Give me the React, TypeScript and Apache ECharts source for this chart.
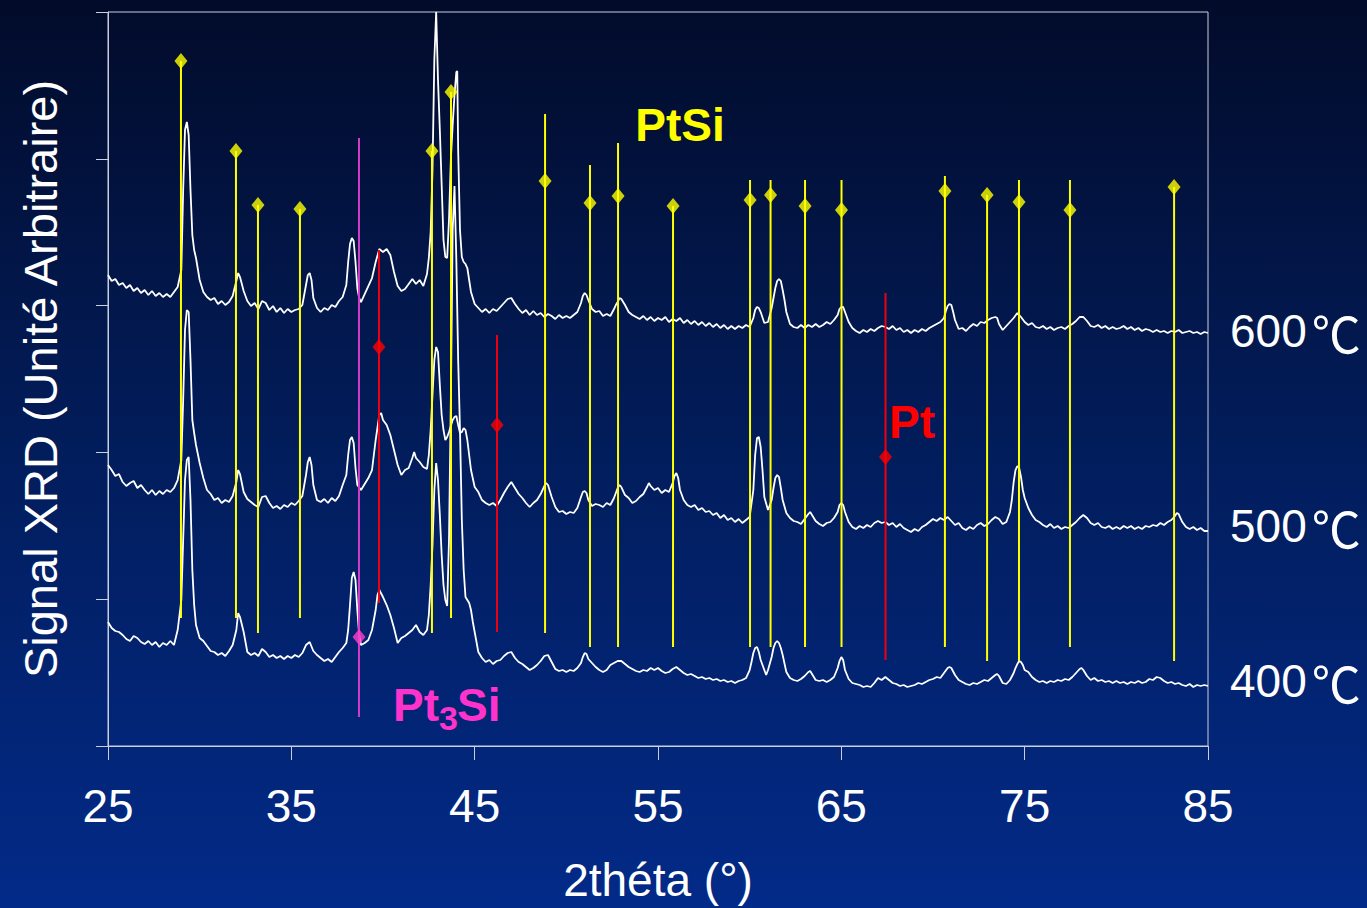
import React, { useEffect, useRef } from "react";
import * as echarts from "echarts";

// 2theta (deg), signal (arbitrary counts)
const scan600: number[][] = [
[25.0,4710],[25.2,4650],[25.4,4670],[25.6,4610],[25.8,4630],[26.0,4580],[26.2,4610],[26.4,4550],[26.6,4580],[26.8,4530],[27.0,4560],[27.2,4510],[27.4,4550],[27.6,4500],[27.8,4530],[28.0,4490],[28.2,4520],[28.4,4490],[28.6,4540],[28.8,4590],
[29.0,4760],[29.1,5560],[29.2,6160],[29.3,6240],[29.4,6110],[29.5,5560],[29.6,5110],[29.7,4960],[29.8,4880],[30.0,4660],[30.2,4540],[30.4,4490],[30.6,4460],[30.8,4480],[31.0,4420],[31.2,4450],[31.4,4410],[31.6,4440],[31.8,4500],
[32.0,4650],[32.1,4730],[32.2,4690],[32.4,4550],[32.6,4450],[32.8,4400],[33.0,4430],[33.2,4370],[33.4,4450],[33.6,4430],[33.8,4360],[34.0,4400],[34.2,4340],[34.4,4380],[34.6,4330],[34.8,4370],[35.0,4340],[35.2,4360],[35.4,4370],[35.6,4410],
[35.8,4610],[35.9,4710],[36.0,4730],[36.1,4660],[36.2,4480],[36.4,4380],[36.6,4340],[36.8,4380],[37.0,4360],[37.2,4410],[37.4,4390],[37.6,4450],[37.8,4490],[38.0,4610],[38.1,4840],[38.2,5020],[38.3,5080],[38.4,5050],[38.5,4840],[38.6,4580],[38.7,4480],[38.8,4440],
[39.0,4520],[39.2,4600],[39.4,4680],[39.6,4840],[39.8,4970],[40.0,4940],[40.2,4970],[40.4,4910],[40.6,4740],[40.8,4600],[41.0,4550],[41.2,4570],[41.4,4620],[41.6,4670],[41.8,4620],[42.0,4660],[42.2,4600],[42.4,4720],[42.5,4880],[42.6,5140],[42.7,5760],[42.8,6860],[42.9,7340],
[43.0,6660],[43.1,6160],[43.2,5610],[43.3,5060],[43.4,4890],[43.5,4880],[43.6,5260],[43.7,5860],[43.8,6210],[43.9,6510],[44.0,6740],[44.05,6750],[44.1,5960],[44.2,5160],[44.3,4890],[44.4,4840],[44.5,4820],[44.6,4780],[44.7,4660],[44.8,4540],
[45.0,4420],[45.2,4380],[45.4,4340],[45.6,4370],[45.8,4330],[46.0,4370],[46.2,4350],[46.4,4390],[46.6,4430],[46.8,4470],[47.0,4480],[47.2,4420],[47.4,4370],[47.6,4330],[47.8,4360],[48.0,4310],[48.2,4350],[48.4,4310],[48.6,4330],[48.8,4290],
[49.0,4320],[49.2,4300],[49.4,4270],[49.6,4310],[49.8,4280],[50.0,4300],[50.2,4280],[50.4,4310],[50.6,4340],[50.8,4430],[50.9,4500],[51.0,4530],[51.1,4510],[51.2,4460],[51.4,4370],[51.6,4340],[51.8,4350],[52.0,4300],[52.2,4320],[52.4,4300],
[52.6,4370],[52.7,4410],[52.8,4440],[52.9,4480],[53.0,4470],[53.2,4410],[53.4,4340],[53.6,4310],[53.8,4290],[54.0,4270],[54.2,4300],[54.4,4260],[54.6,4290],[54.8,4250],[55.0,4280],[55.2,4260],[55.4,4290],[55.6,4240],[55.8,4270],[56.0,4250],
[56.2,4280],[56.4,4230],[56.6,4260],[56.8,4220],[57.0,4250],[57.2,4210],[57.4,4240],[57.6,4200],[57.8,4230],[58.0,4190],[58.2,4220],[58.4,4180],[58.6,4210],[58.8,4170],[59.0,4200],[59.2,4170],[59.4,4200],[59.6,4180],[59.8,4210],[60.0,4190],
[60.2,4280],[60.3,4360],[60.4,4390],[60.5,4380],[60.6,4340],[60.8,4230],[61.0,4240],[61.2,4380],[61.3,4480],[61.4,4580],[61.5,4650],[61.6,4670],[61.7,4650],[61.8,4560],[61.9,4460],[62.0,4340],[62.2,4220],[62.4,4190],[62.6,4180],[62.8,4210],
[63.0,4180],[63.2,4210],[63.4,4190],[63.6,4220],[63.8,4190],[64.0,4210],[64.2,4240],[64.4,4220],[64.6,4260],[64.8,4310],[64.9,4370],[65.0,4390],[65.1,4390],[65.2,4340],[65.4,4240],[65.6,4180],[65.8,4150],[66.0,4130],[66.2,4160],[66.4,4140],
[66.6,4170],[66.8,4150],[67.0,4180],[67.2,4200],[67.4,4190],[67.6,4170],[67.8,4200],[68.0,4160],[68.2,4180],[68.4,4140],[68.6,4160],[68.8,4130],[69.0,4160],[69.2,4140],[69.4,4170],[69.6,4150],[69.8,4180],[70.0,4200],[70.2,4220],[70.4,4240],
[70.6,4280],[70.7,4350],[70.8,4400],[70.9,4420],[71.0,4410],[71.1,4340],[71.2,4260],[71.4,4170],[71.6,4180],[71.8,4150],[72.0,4190],[72.2,4220],[72.4,4200],[72.6,4240],[72.8,4230],[73.0,4260],[73.2,4280],[73.4,4290],[73.5,4280],[73.6,4220],
[73.8,4160],[74.0,4200],[74.2,4240],[74.4,4280],[74.6,4330],[74.8,4290],[75.0,4240],[75.2,4210],[75.4,4230],[75.6,4190],[75.8,4180],[76.0,4200],[76.2,4170],[76.4,4190],[76.6,4160],[76.8,4180],[77.0,4190],[77.2,4170],[77.4,4200],[77.6,4220],
[77.8,4250],[78.0,4290],[78.2,4290],[78.4,4250],[78.6,4200],[78.8,4190],[79.0,4210],[79.2,4180],[79.4,4200],[79.6,4170],[79.8,4190],[80.0,4170],[80.2,4180],[80.4,4200],[80.6,4170],[80.8,4190],[81.0,4160],[81.2,4180],[81.4,4150],[81.6,4170],
[81.8,4160],[82.0,4140],[82.2,4160],[82.4,4140],[82.6,4150],[82.8,4130],[83.0,4150],[83.2,4140],[83.4,4160],[83.6,4130],[83.8,4140],[84.0,4150],[84.2,4130],[84.4,4140],[84.6,4120],[84.8,4140],[85.0,4130]
];

const scan500: number[][] = [
[25.0,2810],[25.2,2760],[25.4,2700],[25.6,2720],[25.8,2640],[26.0,2600],[26.2,2630],[26.4,2650],[26.6,2580],[26.8,2610],[27.0,2560],[27.2,2520],[27.4,2560],[27.6,2510],[27.8,2550],[28.0,2520],[28.2,2560],[28.4,2540],[28.6,2580],[28.8,2660],
[29.0,2860],[29.1,3460],[29.2,4160],[29.3,4360],[29.4,4340],[29.5,3860],[29.6,3260],[29.7,3130],[29.8,3010],[30.0,2830],[30.2,2680],[30.4,2560],[30.6,2520],[30.8,2460],[31.0,2480],[31.2,2430],[31.4,2460],[31.6,2440],[31.8,2500],
[32.0,2640],[32.1,2760],[32.2,2720],[32.4,2540],[32.6,2470],[32.8,2440],[33.0,2410],[33.2,2390],[33.4,2490],[33.6,2500],[33.8,2430],[34.0,2380],[34.2,2400],[34.4,2370],[34.6,2410],[34.8,2390],[35.0,2430],[35.2,2410],[35.4,2450],[35.6,2500],
[35.8,2710],[35.9,2840],[36.0,2890],[36.1,2810],[36.2,2610],[36.4,2460],[36.6,2440],[36.8,2470],[37.0,2430],[37.2,2480],[37.4,2450],[37.6,2500],[37.8,2610],[38.0,2710],[38.1,2910],[38.2,3060],[38.3,3090],[38.4,3030],[38.5,2780],[38.6,2610],[38.8,2560],
[39.0,2620],[39.2,2680],[39.4,2760],[39.6,3060],[39.8,3310],[39.9,3330],[40.0,3260],[40.2,3210],[40.4,3110],[40.6,2960],[40.8,2810],[41.0,2710],[41.2,2760],[41.4,2780],[41.6,2880],[41.7,2940],[41.8,2880],[42.0,2840],[42.2,2790],[42.4,2770],
[42.5,2910],[42.6,3160],[42.7,3510],[42.8,3860],[42.9,3990],[43.0,3940],[43.1,3610],[43.2,3310],[43.3,3160],[43.4,3060],[43.5,3090],[43.6,3140],[43.7,3200],[43.8,3260],[43.9,3290],[44.0,3300],[44.1,3210],[44.2,3130],[44.3,3140],[44.4,3180],
[44.5,3160],[44.6,3060],[44.7,2910],[44.8,2760],[45.0,2590],[45.2,2540],[45.4,2460],[45.6,2430],[45.8,2410],[46.0,2430],[46.2,2400],[46.4,2460],[46.6,2530],[46.8,2590],[47.0,2640],[47.2,2580],[47.4,2520],[47.6,2480],[47.8,2430],[48.0,2390],
[48.2,2430],[48.4,2460],[48.6,2520],[48.8,2600],[48.9,2630],[49.0,2610],[49.2,2490],[49.4,2390],[49.6,2340],[49.8,2350],[50.0,2320],[50.2,2340],[50.4,2330],[50.6,2380],[50.8,2490],[50.9,2540],[51.0,2550],[51.1,2530],[51.2,2460],[51.4,2400],
[51.6,2420],[51.8,2410],[52.0,2390],[52.2,2430],[52.4,2410],[52.6,2480],[52.8,2580],[52.9,2610],[53.0,2590],[53.2,2510],[53.4,2480],[53.6,2430],[53.8,2450],[54.0,2490],[54.2,2520],[54.4,2590],[54.5,2630],[54.6,2600],[54.8,2560],[55.0,2580],
[55.2,2530],[55.4,2560],[55.6,2540],[55.8,2630],[55.9,2700],[56.0,2730],[56.1,2680],[56.2,2560],[56.4,2460],[56.6,2410],[56.8,2390],[57.0,2410],[57.2,2360],[57.4,2380],[57.6,2340],[57.8,2350],[58.0,2310],[58.2,2330],[58.4,2280],[58.6,2310],
[58.8,2260],[59.0,2280],[59.2,2240],[59.4,2270],[59.6,2230],[59.8,2260],[60.0,2290],[60.2,2560],[60.3,2910],[60.4,3080],[60.5,3090],[60.6,2990],[60.7,2760],[60.8,2490],[61.0,2360],[61.2,2460],[61.3,2580],[61.4,2680],[61.5,2710],[61.6,2690],
[61.7,2580],[61.8,2460],[62.0,2330],[62.2,2280],[62.4,2250],[62.6,2240],[62.8,2220],[63.0,2270],[63.2,2320],[63.3,2340],[63.4,2310],[63.6,2250],[63.8,2220],[64.0,2200],[64.2,2230],[64.4,2240],[64.6,2280],[64.8,2340],[64.9,2410],[65.0,2430],
[65.1,2410],[65.2,2340],[65.4,2240],[65.6,2190],[65.8,2170],[66.0,2200],[66.2,2180],[66.4,2210],[66.6,2190],[66.8,2230],[67.0,2250],[67.2,2230],[67.4,2240],[67.6,2210],[67.8,2230],[68.0,2190],[68.2,2220],[68.4,2180],[68.6,2160],[68.8,2140],
[69.0,2170],[69.2,2150],[69.4,2190],[69.6,2210],[69.8,2240],[70.0,2270],[70.2,2250],[70.4,2280],[70.6,2260],[70.8,2290],[71.0,2250],[71.2,2210],[71.4,2230],[71.6,2180],[71.8,2160],[72.0,2190],[72.2,2170],[72.4,2210],[72.6,2230],[72.8,2200],
[73.0,2220],[73.2,2260],[73.4,2290],[73.6,2270],[73.8,2220],[74.0,2240],[74.2,2340],[74.3,2460],[74.4,2640],[74.5,2760],[74.6,2800],[74.7,2780],[74.8,2690],[74.9,2560],[75.0,2480],[75.2,2380],[75.4,2310],[75.6,2260],[75.8,2240],[76.0,2210],
[76.2,2190],[76.4,2220],[76.6,2180],[76.8,2200],[77.0,2170],[77.2,2190],[77.4,2180],[77.6,2210],[77.8,2240],[78.0,2280],[78.2,2310],[78.4,2280],[78.6,2230],[78.8,2210],[79.0,2230],[79.2,2190],[79.4,2180],[79.6,2200],[79.8,2170],[80.0,2190],
[80.2,2170],[80.4,2200],[80.6,2180],[80.8,2200],[81.0,2170],[81.2,2190],[81.4,2170],[81.6,2200],[81.8,2190],[82.0,2210],[82.2,2200],[82.4,2230],[82.6,2210],[82.8,2240],[83.0,2260],[83.2,2300],[83.3,2330],[83.4,2320],[83.6,2240],[83.8,2190],
[84.0,2170],[84.2,2190],[84.4,2160],[84.6,2180],[84.8,2150],[85.0,2150]
];

const scan400: number[][] = [
[25.0,1240],[25.2,1180],[25.4,1150],[25.6,1140],[25.8,1110],[26.0,1070],[26.2,1050],[26.4,1100],[26.6,1080],[26.8,1040],[27.0,1020],[27.2,1050],[27.4,1010],[27.6,1040],[27.8,990],[28.0,1030],[28.2,1010],[28.4,1050],[28.6,1010],[28.8,1160],
[29.0,1460],[29.1,2060],[29.2,2660],[29.3,2860],[29.4,2890],[29.5,2460],[29.6,1760],[29.7,1410],[29.8,1210],[30.0,1080],[30.2,1050],[30.4,1000],[30.6,950],[30.8,940],[31.0,910],[31.2,930],[31.4,900],[31.6,950],[31.8,1010],
[32.0,1160],[32.1,1330],[32.2,1290],[32.4,1140],[32.6,940],[32.8,910],[33.0,930],[33.2,900],[33.4,970],[33.6,940],[33.8,890],[34.0,910],[34.2,880],[34.4,900],[34.6,870],[34.8,900],[35.0,880],[35.2,910],[35.4,890],[35.6,930],
[35.8,1010],[36.0,1040],[36.2,950],[36.4,910],[36.6,880],[36.8,850],[37.0,870],[37.2,840],[37.4,890],[37.6,940],[37.8,980],[38.0,1030],[38.1,1160],[38.2,1410],[38.3,1680],[38.4,1740],[38.5,1660],[38.6,1360],[38.7,1110],[38.8,1010],
[39.0,1030],[39.2,1060],[39.4,1160],[39.6,1360],[39.7,1510],[39.8,1560],[40.0,1490],[40.2,1410],[40.4,1310],[40.6,1180],[40.8,1030],[41.0,1080],[41.2,1100],[41.4,1130],[41.6,1160],[41.8,1210],[42.0,1140],[42.2,1110],[42.4,1160],
[42.5,1310],[42.6,1610],[42.7,2010],[42.8,2560],[42.9,2830],[43.0,2660],[43.1,2310],[43.2,1910],[43.3,1610],[43.4,1460],[43.5,1400],[43.6,2060],[43.7,3460],[43.8,5160],[43.9,5600],[44.0,4860],[44.1,3860],[44.2,3160],[44.3,2260],[44.4,1760],
[44.5,1490],[44.6,1460],[44.7,1430],[44.8,1360],[44.9,1240],[45.0,1140],[45.2,940],[45.4,880],[45.6,840],[45.8,860],[46.0,820],[46.2,850],[46.4,860],[46.6,900],[46.8,930],[47.0,940],[47.2,880],[47.4,840],[47.6,820],[47.8,790],
[48.0,760],[48.2,780],[48.4,810],[48.6,850],[48.8,900],[49.0,910],[49.2,840],[49.4,770],[49.6,750],[49.8,760],[50.0,740],[50.2,760],[50.4,750],[50.6,780],[50.8,830],[50.9,890],[51.0,930],[51.1,920],[51.2,870],[51.4,830],
[51.6,790],[51.8,760],[52.0,740],[52.2,760],[52.4,810],[52.6,830],[52.8,850],[53.0,850],[53.2,820],[53.4,790],[53.6,770],[53.8,750],[54.0,740],[54.2,760],[54.4,750],[54.6,780],[54.8,760],[55.0,780],[55.2,750],[55.4,730],
[55.6,740],[55.8,770],[56.0,790],[56.2,760],[56.4,730],[56.6,710],[56.8,720],[57.0,700],[57.2,680],[57.4,690],[57.6,670],[57.8,680],[58.0,660],[58.2,670],[58.4,650],[58.6,660],[58.8,640],[59.0,650],[59.2,630],[59.4,650],
[59.6,660],[59.8,680],[60.0,760],[60.1,840],[60.2,930],[60.3,980],[60.4,990],[60.5,940],[60.6,860],[60.8,760],[60.9,710],[61.0,760],[61.2,890],[61.3,980],[61.4,1030],[61.5,1050],[61.6,1030],[61.7,980],[61.8,910],[62.0,740],
[62.2,680],[62.4,660],[62.6,650],[62.8,670],[63.0,700],[63.2,740],[63.3,750],[63.4,720],[63.6,660],[63.8,650],[64.0,660],[64.2,640],[64.4,660],[64.6,690],[64.8,780],[64.9,850],[65.0,890],[65.1,860],[65.2,760],[65.4,670],
[65.6,630],[65.8,620],[66.0,610],[66.2,590],[66.4,600],[66.6,590],[66.8,630],[67.0,680],[67.2,660],[67.4,690],[67.6,660],[67.8,630],[68.0,620],[68.2,600],[68.4,610],[68.6,590],[68.8,600],[69.0,610],[69.2,630],[69.4,620],
[69.6,640],[69.8,660],[70.0,670],[70.2,690],[70.4,680],[70.6,730],[70.8,780],[70.9,790],[71.0,780],[71.2,710],[71.4,660],[71.6,640],[71.8,620],[72.0,610],[72.2,630],[72.4,620],[72.6,640],[72.8,660],[73.0,650],[73.2,680],
[73.4,710],[73.5,720],[73.6,700],[73.8,630],[74.0,620],[74.2,660],[74.4,730],[74.5,780],[74.6,820],[74.7,850],[74.8,840],[74.9,810],[75.0,760],[75.2,740],[75.4,690],[75.6,660],[75.8,640],[76.0,650],[76.2,630],[76.4,650],
[76.6,640],[76.8,660],[77.0,650],[77.2,670],[77.4,660],[77.6,690],[77.8,730],[78.0,770],[78.1,780],[78.2,760],[78.4,700],[78.6,660],[78.8,680],[79.0,650],[79.2,660],[79.4,640],[79.6,650],[79.8,630],[80.0,650],[80.2,630],
[80.4,640],[80.6,620],[80.8,640],[81.0,630],[81.2,650],[81.4,630],[81.6,640],[81.8,670],[82.0,660],[82.2,690],[82.4,680],[82.6,650],[82.8,630],[83.0,640],[83.2,620],[83.4,630],[83.6,610],[83.8,600],[84.0,620],[84.2,590],
[84.4,610],[84.6,600],[84.8,610],[85.0,600]
];

// Reference patterns: position, top of stick, diamond, foot of stick
const ptsiPos = [28.98, 31.98, 33.18, 35.47, 42.67, 43.71, 48.84, 51.29, 52.82, 55.82, 60.02, 61.14, 63.02, 65.01, 70.65, 72.95, 74.69, 77.47, 83.15];
const ptsiTop = [6850, 5950, 5410, 5370, 5950, 6540, 6320, 5810, 6030, 5400, 5660, 5660, 5660, 5660, 5700, 5510, 5660, 5660, 5590];
const ptsiMark = [6850, 5950, 5410, 5370, 5950, 6540, 5650, 5430, 5500, 5400, 5460, 5510, 5400, 5360, 5550, 5510, 5440, 5360, 5590];
const ptsiFoot = [1280, 1280, 1130, 1280, 1130, 1280, 1130, 990, 990, 990, 990, 990, 990, 990, 990, 850, 850, 990, 850];

const ptPos = [39.78, 46.22, 67.41];
const ptTop = [4960, 4110, 4530];
const ptMark = [3990, 3210, 2890];
const ptFoot = [1430, 1140, 860];

const pt3siPos = [38.69];
const pt3siTop = [6080];
const pt3siMark = [1090];
const pt3siFoot = [290];

const temperatures = ["600", "500", "400"];

const FONT = '"Liberation Sans", Arial, Helvetica, sans-serif';
const CJK = '"Noto Sans CJK JP", "Noto Sans CJK SC", sans-serif';
const AXIS = "#c9cfdd";

function sticks(name: string, pos: number[], top: number[], mark: number[], foot: number[], lineColor: string, markColor: string): any[] {
  return [
    {
      name,
      type: "custom",
      z: 5,
      silent: true,
      data: pos.map((x, i) => [x, top[i], foot[i]]),
      encode: { x: 0, y: [1, 2] },
      renderItem: (_p: any, api: any) => {
        const a = api.coord([api.value(0), api.value(1)]);
        const b = api.coord([api.value(0), api.value(2)]);
        return {
          type: "line",
          shape: { x1: a[0], y1: a[1], x2: b[0], y2: b[1] },
          style: { stroke: lineColor, lineWidth: 2 },
        };
      },
    },
    {
      name: name + " pics",
      type: "scatter",
      z: 6,
      silent: true,
      data: pos.map((x, i) => [x, mark[i]]),
      symbol: "diamond",
      symbolSize: [13, 16],
      itemStyle: { color: markColor },
    },
  ];
}

function curve(name: string, data: number[][]): any {
  return {
    name,
    type: "line",
    data,
    z: 3,
    symbol: "none",
    silent: true,
    lineStyle: { color: "#ffffff", width: 1.8 },
  };
}

function txt(x: number, y: number, text: string, font: string, fill: string, align = "left"): any {
  return {
    type: "text",
    x,
    y,
    z: 10,
    silent: true,
    style: { text, font, fill, align, verticalAlign: "middle", textAlign: align, textVerticalAlign: "middle" },
  };
}

function tempLabel(y: number, t: string): any {
  return {
    type: "text",
    x: 1230,
    y,
    z: 10,
    silent: true,
    style: {
      text: `{n|${t}}{c|℃}`,
      fill: "#ffffff",
      align: "left",
      verticalAlign: "middle",
      textAlign: "left",
      textVerticalAlign: "middle",
      rich: {
        n: { fontSize: 46, fontFamily: FONT, fill: "#ffffff" },
        c: { fontSize: 49, fontFamily: CJK, fill: "#ffffff", padding: [0, 0, 0, 5] },
      },
    },
  };
}

export default function App() {
  const ref = useRef<HTMLDivElement>(null);
  useEffect(() => {
    if (!ref.current) return;
    const chart = echarts.init(ref.current, null, { renderer: "svg" });
    const option: any = {
      animation: false,
      backgroundColor: "transparent",
      textStyle: { fontFamily: FONT },
      grid: { left: 108, right: 159, top: 12, bottom: 162, show: true, borderColor: AXIS, borderWidth: 1, backgroundColor: "transparent" },
      xAxis: {
        type: "value",
        min: 25,
        max: 85,
        interval: 10,
        axisLine: { show: true, lineStyle: { color: AXIS, width: 1 } },
        axisTick: { show: true, length: 14, lineStyle: { color: AXIS, width: 1 } },
        axisLabel: { color: "#ffffff", fontSize: 46, fontFamily: FONT, margin: 37 },
        splitLine: { show: false },
        name: "2théta (°)",
        nameLocation: "middle",
        nameGap: 111,
        nameTextStyle: { color: "#ffffff", fontSize: 46, fontFamily: FONT },
      },
      yAxis: {
        type: "value",
        min: 0,
        max: 7340,
        interval: 1468,
        axisLine: { show: true, lineStyle: { color: AXIS, width: 1 } },
        axisTick: { show: true, length: 12, lineStyle: { color: AXIS, width: 1 } },
        axisLabel: { show: false },
        splitLine: { show: false },
        name: "Signal XRD (Unité Arbitraire)",
        nameLocation: "middle",
        nameGap: 44,
        nameTextStyle: { color: "#ffffff", fontSize: 47, fontFamily: FONT },
      },
      series: [
        curve("600 °C", scan600),
        curve("500 °C", scan500),
        curve("400 °C", scan400),
        ...sticks("PtSi", ptsiPos, ptsiTop, ptsiMark, ptsiFoot, "#ffff00", "#ffff00"),
        ...sticks("Pt", ptPos, ptTop, ptMark, ptFoot, "#ee0010", "#ff0000"),
        ...sticks("Pt3Si", pt3siPos, pt3siTop, pt3siMark, pt3siFoot, "#d23cc8", "#ff40cc"),
      ],
      graphic: [
        txt(680, 125, "PtSi", `bold 46px ${FONT}`, "#ffff00", "center"),
        txt(912, 422, "Pt", `bold 46px ${FONT}`, "#ff0000", "center"),
        txt(393, 705, "Pt", `bold 46px ${FONT}`, "#ff33cc"),
        txt(439, 718, "3", `bold 34px ${FONT}`, "#ff33cc"),
        txt(457, 705, "Si", `bold 46px ${FONT}`, "#ff33cc"),
        tempLabel(331, temperatures[0]),
        tempLabel(526, temperatures[1]),
        tempLabel(681, temperatures[2]),
      ],
    };
    chart.setOption(option);
    return () => chart.dispose();
  }, []);
  return (
    <div
      ref={ref}
      style={{
        position: "fixed",
        left: 0,
        top: 0,
        width: 1367,
        height: 908,
        background: "linear-gradient(180deg, #020b2a 0%, #021d5c 50%, #022a88 100%)",
      }}
    />
  );
}
